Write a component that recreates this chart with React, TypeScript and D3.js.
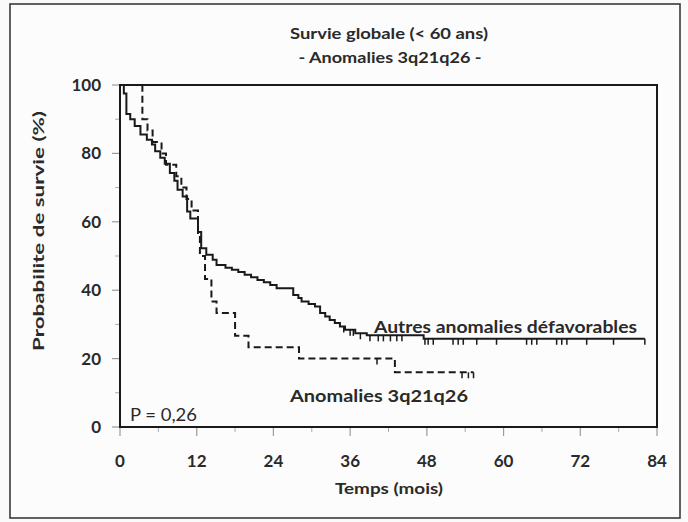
import React from "react";
import * as d3 from "d3";

// Axis ticks
const xTicks = [0, 12, 24, 36, 48, 60, 72, 84];
const xMinorTicks = [6, 18, 30, 42, 54, 66, 78];
const yTicks = [0, 20, 40, 60, 80, 100];
const yMinorTicks = [10, 30, 50, 70, 90];

// "Autres anomalies défavorables" (solid) – Kaplan-Meier steps
const otherTimes = [0, 0.6, 1.0, 1.6, 2.3, 3.2, 4.2, 5.0, 5.5, 6.3, 7.0, 7.8, 8.5, 9.0, 9.8, 10.5, 11.0, 12.2, 12.7, 13.5, 14.5, 15.1, 16.5, 17.5, 18.5, 19.5, 20.5, 21.5, 22.5, 23.5, 24.5, 27.1, 27.9, 28.4, 29.5, 30.5, 31.3, 32.1, 32.8, 33.6, 34.4, 35.2, 36.8, 38.6, 47.5];
const otherSurv = [100, 97.5, 91.5, 90, 88, 85.5, 84, 82.6, 80.6, 78.7, 77, 74.3, 72, 69.4, 67.4, 63, 61, 57, 52.3, 50.4, 48.9, 47.4, 46.6, 46, 45.3, 44.5, 43.8, 43, 42.3, 41.5, 40.6, 38.6, 37.7, 36.7, 36.0, 35.2, 33.3, 32.3, 31.3, 30.4, 29.4, 28.4, 27.4, 26.8, 25.8];
const otherEnd = 82.1;
const otherCensored = [35.0, 36.0, 36.5, 37.6, 39.1, 40.4, 41.2, 42.3, 43.3, 44.1, 47.7, 48.2, 49.0, 52.1, 52.9, 53.7, 55.8, 58.9, 63.6, 64.4, 65.2, 68.3, 69.1, 69.9, 73.0, 77.2, 82.1];

// "Anomalies 3q21q26" (dashed)
const anomTimes = [0, 3.5, 4.3, 5.1, 6.5, 7.2, 8.8, 9.6, 10.4, 11.2, 12.2, 12.5, 13.3, 14.3, 15.1, 18.0, 20.1, 28.0, 43.0];
const anomSurv = [100, 90, 86.7, 83.3, 80, 76.7, 73.3, 70, 66.7, 63.3, 56.7, 50, 43.3, 36.7, 33.3, 26.7, 23.3, 20, 16];
const anomEnd = 55.3;
const anomCensored = [40.2, 53.5, 54.5, 55.3];

const FONT = "Lato, 'Open Sans', sans-serif";
const TXT = "#2a2a2a";

function survAt(times: number[], surv: number[], t: number) {
  let s = surv[0];
  for (let i = 0; i < times.length; i++) if (times[i] <= t) s = surv[i];
  return s;
}

export default function App() {
  const W = 688, H = 522;
  const x = d3.scaleLinear().domain([0, 84]).range([120, 657]);
  const y = d3.scaleLinear().domain([0, 100]).range([427, 85]);

  const line = d3
    .line<[number, number]>()
    .x((d) => x(d[0]))
    .y((d) => y(d[1]))
    .curve(d3.curveStepAfter);

  const otherPts: [number, number][] = otherTimes.map((t, i) => [t, otherSurv[i]]);
  otherPts.push([otherEnd, otherSurv[otherSurv.length - 1]]);
  const anomPts: [number, number][] = anomTimes.map((t, i) => [t, anomSurv[i]]);
  anomPts.push([anomEnd, anomSurv[anomSurv.length - 1]]);

  const [x0, x1] = x.range();
  const [y0, y1] = y.range();

  return (
    <svg width={W} height={H} style={{ position: "absolute", left: 0, top: 0, background: "#fafafa" }}>
      <rect x={0} y={0} width={W} height={H} fill="#fafafa" />
      <rect x={10} y={4} width={670} height={514} fill="#fcfcfc" stroke="#3a3a3a" strokeWidth={1.6} />

      {/* Title */}
      <text x={389} y={39} textAnchor="middle" fontFamily={FONT} fontWeight="bold" fontSize={16} fill={TXT} textLength={198} lengthAdjust="spacingAndGlyphs">
        Survie globale (&lt; 60 ans)
      </text>
      <text x={390} y={63} textAnchor="middle" fontFamily={FONT} fontWeight="bold" fontSize={16} fill={TXT} textLength={183} lengthAdjust="spacingAndGlyphs">
        - Anomalies 3q21q26 -
      </text>

      {/* Ticks */}
      {yTicks.map((t) => (
        <g key={"yt" + t}>
          <line x1={x0 - 8} x2={x0} y1={y(t)} y2={y(t)} stroke="#9a9a9a" strokeWidth={1.2} />
          <text x={101} y={y(t) + 6} textAnchor="end" fontFamily={FONT} fontWeight="bold" fontSize={17} fill={TXT}>
            {t}
          </text>
        </g>
      ))}
      {yMinorTicks.map((t) => (
        <line key={"ym" + t} x1={x0 - 5} x2={x0} y1={y(t)} y2={y(t)} stroke="#aaaaaa" strokeWidth={1} />
      ))}
      {xTicks.map((t) => (
        <g key={"xt" + t}>
          <line x1={x(t)} x2={x(t)} y1={y0} y2={y0 + 9} stroke="#9a9a9a" strokeWidth={1.2} />
          <text x={x(t)} y={467} textAnchor="middle" fontFamily={FONT} fontWeight="bold" fontSize={17} fill={TXT}>
            {t}
          </text>
        </g>
      ))}
      {xMinorTicks.map((t) => (
        <line key={"xm" + t} x1={x(t)} x2={x(t)} y1={y0} y2={y0 + 5} stroke="#aaaaaa" strokeWidth={1} />
      ))}

      {/* Plot frame */}
      <rect x={x0} y={y1} width={x1 - x0} height={y0 - y1} fill="none" stroke="#1a1a1a" strokeWidth={2} />

      {/* Axis titles */}
      <text x={389} y={494} textAnchor="middle" fontFamily={FONT} fontWeight="bold" fontSize={16} fill={TXT} textLength={108} lengthAdjust="spacingAndGlyphs">
        Temps (mois)
      </text>
      <text transform="translate(44,231) rotate(-90)" textAnchor="middle" fontFamily={FONT} fontWeight="bold" fontSize={16} fill={TXT} textLength={240} lengthAdjust="spacingAndGlyphs">
        Probabilite de survie (%)
      </text>

      {/* Curves */}
      <path d={line(otherPts) || ""} fill="none" stroke="#1a1a1a" strokeWidth={2} />
      <path d={line(anomPts) || ""} fill="none" stroke="#1a1a1a" strokeWidth={2} strokeDasharray="7,4" />

      {/* Censor marks */}
      {otherCensored.map((t, i) => {
        const s = survAt(otherTimes, otherSurv, t);
        return <line key={"oc" + i} x1={x(t)} x2={x(t)} y1={y(s)} y2={y(s) + 6} stroke="#1a1a1a" strokeWidth={1.5} />;
      })}
      {anomCensored.map((t, i) => {
        const s = survAt(anomTimes, anomSurv, t);
        return <line key={"ac" + i} x1={x(t)} x2={x(t)} y1={y(s)} y2={y(s) + 6} stroke="#1a1a1a" strokeWidth={1.5} />;
      })}

      {/* Labels */}
      <text x={374} y={333} fontFamily={FONT} fontWeight="bold" fontSize={17} fill={TXT} textLength={263} lengthAdjust="spacingAndGlyphs">
        Autres anomalies défavorables
      </text>
      <text x={290} y={402} fontFamily={FONT} fontWeight="bold" fontSize={17} fill={TXT} textLength={178} lengthAdjust="spacingAndGlyphs">
        Anomalies 3q21q26
      </text>
      <text x={130} y={421} fontFamily={FONT} fontSize={17} fill={TXT} textLength={67} lengthAdjust="spacingAndGlyphs">
        P = 0,26
      </text>
    </svg>
  );
}
